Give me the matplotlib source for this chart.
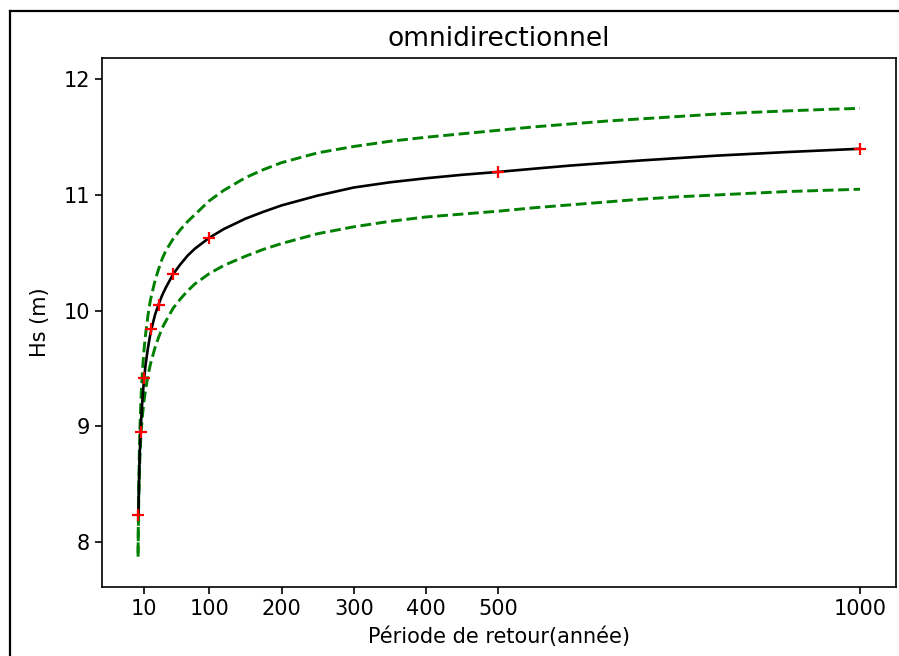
import matplotlib
matplotlib.use('Agg')
import matplotlib.pyplot as plt
from matplotlib.lines import Line2D

# return periods (years) and Hs (m)
T_fit = [2, 2.5, 3, 3.5, 4, 5, 6, 7, 8, 10, 12, 15, 18, 20, 25, 30, 35, 40, 50, 60, 70, 80, 100, 120, 150,
         175, 200, 250, 300, 350, 400, 450, 500, 550, 600, 650, 700, 750, 800, 850, 900, 950, 1000]
hs_fit = [8.23, 8.425, 8.57, 8.69, 8.79, 8.95, 9.077, 9.18, 9.27, 9.42, 9.535, 9.67, 9.78, 9.84, 9.965,
          10.055, 10.135, 10.20, 10.315, 10.40, 10.475, 10.535, 10.63, 10.705, 10.795, 10.855, 10.91,
          10.995, 11.065, 11.11, 11.145, 11.175, 11.20, 11.228, 11.255, 11.278, 11.30, 11.32, 11.34,
          11.356, 11.372, 11.386, 11.40]

T_ci = [1.5] + T_fit
hs_upper = [7.90, 8.28, 8.50, 8.70, 8.84, 8.97, 9.15, 9.30, 9.42, 9.52, 9.68, 9.80, 9.95, 10.07, 10.13,
            10.26, 10.36, 10.45, 10.52, 10.62, 10.70, 10.77, 10.83, 10.95, 11.04, 11.15, 11.22, 11.28,
            11.365, 11.42, 11.465, 11.50, 11.53, 11.56, 11.59, 11.615, 11.64, 11.66, 11.68, 11.70,
            11.715, 11.728, 11.74, 11.75]
hs_lower = [7.87, 8.18, 8.36, 8.50, 8.62, 8.72, 8.86, 8.97, 9.05, 9.12, 9.23, 9.32, 9.43, 9.52, 9.57,
            9.68, 9.77, 9.85, 9.91, 10.02, 10.10, 10.17, 10.23, 10.32, 10.39, 10.47, 10.53, 10.58,
            10.665, 10.725, 10.772, 10.81, 10.835, 10.86, 10.89, 10.915, 10.94, 10.965, 10.985, 11.00,
            11.015, 11.03, 11.04, 11.05]

T_pts = [2, 5, 10, 20, 30, 50, 100, 500, 1000]
hs_pts = [8.23, 8.95, 9.42, 9.84, 10.05, 10.32, 10.63, 11.20, 11.40]

xtick_vals = [10, 100, 200, 300, 400, 500, 1000]

fig = plt.figure(figsize=(8.99, 6.56), dpi=100)
ax = fig.add_axes([102 / 899, 1 - 586.7 / 656, 794 / 899, (586.7 - 57.5) / 656])

ax.plot(T_ci, hs_upper, '--', color='green', lw=2.1)
ax.plot(T_ci, hs_lower, '--', color='green', lw=2.1)
ax.plot(T_fit, hs_fit, color='black', lw=1.9)
ax.plot(T_pts, hs_pts, '+', color='red', ms=9, mew=1.6)

ax.set_xlim(-48.4, 1049.9)
ax.set_ylim(7.61, 12.19)
ax.set_xticks(xtick_vals)
ax.set_xticklabels([str(v) for v in xtick_vals])
ax.set_yticks([8, 9, 10, 11, 12])
ax.tick_params(labelsize=15, length=5, width=1.2)
for s in ax.spines.values():
    s.set_linewidth(1.2)

ax.set_title('omnidirectionnel', fontsize=19, pad=8)
ax.set_xlabel('Période de retour(année)', fontsize=15, labelpad=6)
ax.set_ylabel('Hs (m)', fontsize=15, labelpad=10)

# screenshot frame
x0 = 9.5 / 899
y0 = 1 - 10.5 / 656
fig.add_artist(Line2D([x0, x0], [0, y0], transform=fig.transFigure, color='black', lw=1.6))
fig.add_artist(Line2D([x0, 1], [y0, y0], transform=fig.transFigure, color='black', lw=1.6))

fig.savefig('out.png', dpi=100)
